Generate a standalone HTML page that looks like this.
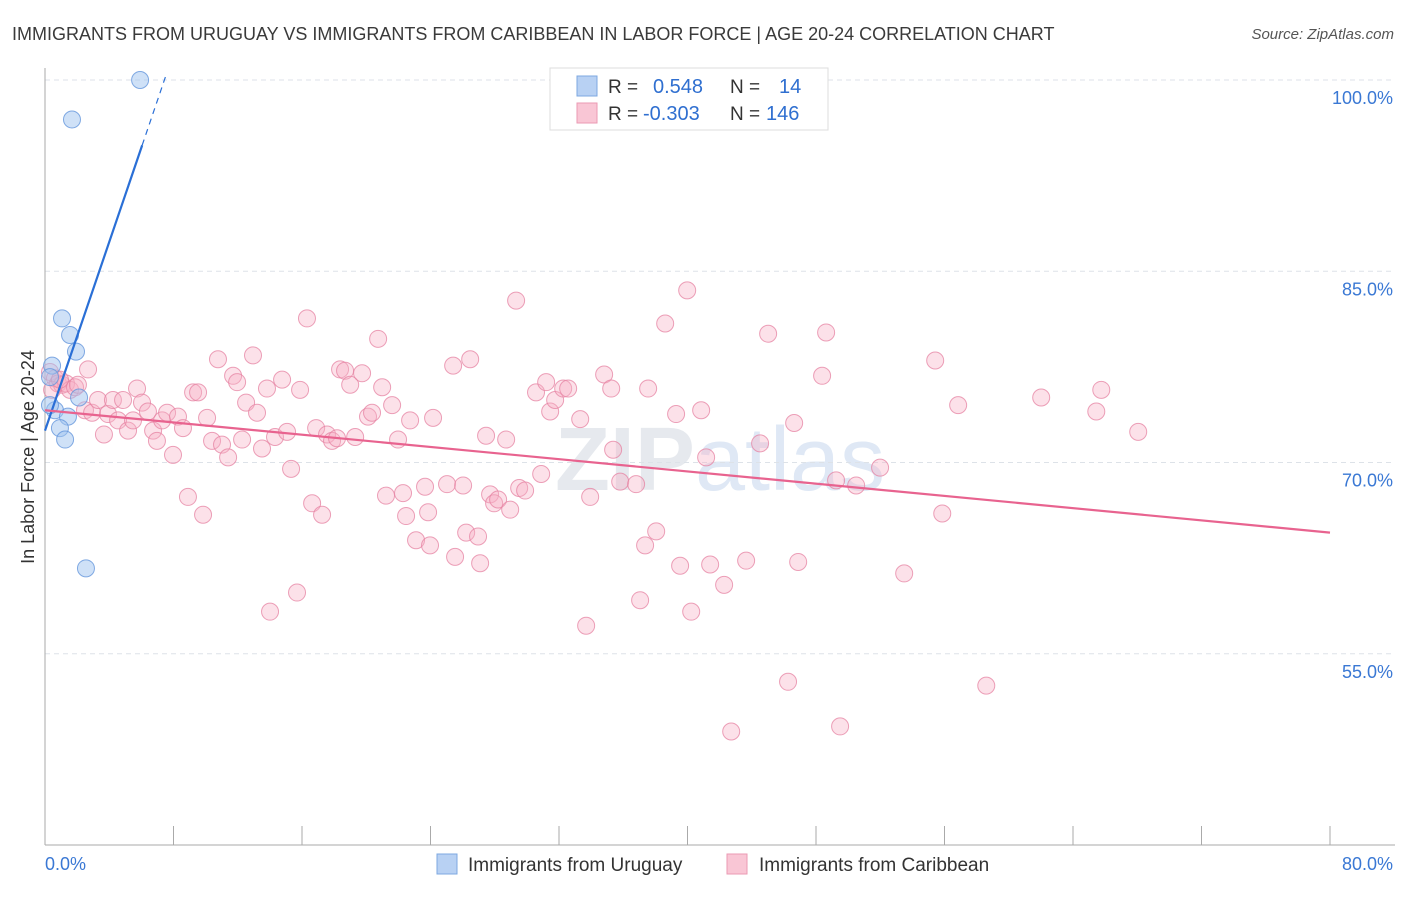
<!DOCTYPE html>
<html><head><meta charset="utf-8">
<style>
body{margin:0;background:#fff;font-family:"Liberation Sans",sans-serif;}
svg text{font-family:"Liberation Sans",sans-serif;}
</style></head>
<body>
<svg id="chart" width="1406" height="892" xmlns="http://www.w3.org/2000/svg">
<text x="12" y="40" font-size="18" fill="#3a3a3a">IMMIGRANTS FROM URUGUAY VS IMMIGRANTS FROM CARIBBEAN IN LABOR FORCE | AGE 20-24 CORRELATION CHART</text>
<text x="1394" y="39" font-size="15" fill="#555" text-anchor="end" font-style="italic">Source: ZipAtlas.com</text>
<text x="720" y="490" font-size="90" text-anchor="middle" fill="#e6e9ee" font-family="Liberation Serif" font-weight="bold">ZIP<tspan fill="#dfe8f5" font-family="Liberation Sans" font-weight="normal">atlas</tspan></text>
<g id="grid"></g>
<g id="axes"></g>
<g id="pink"></g>
<g id="blue"></g>
<g id="trends"></g>
<text transform="translate(34,457) rotate(-90)" font-size="18" fill="#333" text-anchor="middle">In Labor Force | Age 20-24</text>
<g>
<rect x="550" y="68" width="278" height="62" fill="#fff" stroke="#ddd"/>
<rect x="577" y="76" width="20" height="20" fill="#b8d1f3" stroke="#7ea8e0"/>
<rect x="577" y="103" width="20" height="20" fill="#f9c6d5" stroke="#eb9ab3"/>
<text x="608" y="93" font-size="19" fill="#333">R = </text><text x="653" y="93" font-size="20" fill="#2f6fd0">0.548</text>
<text x="730" y="93" font-size="19" fill="#333">N = </text><text x="779" y="93" font-size="20" fill="#2f6fd0">14</text>
<text x="608" y="120" font-size="19" fill="#333">R = </text><text x="643" y="120" font-size="20" fill="#2f6fd0">-0.303</text>
<text x="730" y="120" font-size="19" fill="#333">N = </text><text x="766" y="120" font-size="20" fill="#2f6fd0">146</text>
</g>
<g>
<rect x="437" y="854" width="20" height="20" fill="#b8d1f3" stroke="#7ea8e0"/>
<text x="468" y="871" font-size="19" fill="#333">Immigrants from Uruguay</text>
<rect x="727" y="854" width="20" height="20" fill="#f9c6d5" stroke="#eb9ab3"/>
<text x="759" y="871" font-size="19" fill="#333">Immigrants from Caribbean</text>
</g>
</svg>
<script>
const yTicks=[100,85,70,55];
const yTickLabels=["100.0%","85.0%","70.0%","55.0%"];
const xTickCount=10;
const xEndLabels=["0.0%","80.0%"];
const uruguayX=[5.92,1.68,1.06,1.56,1.93,0.44,0.31,2.12,0.62,0.31,1.43,0.93,1.25,2.55];
const uruguayY=[100,96.9,81.3,80.0,78.7,77.6,76.7,75.1,74.1,74.5,73.6,72.7,71.8,61.7];
const caribX=[0.31,0.62,0.81,1.06,1.31,1.56,1.87,2.68,2.05,0.44,0.93,2.49,2.93,3.30,3.67,3.92,4.23,4.55,4.86,5.17,5.48,5.73,6.04,6.41,6.73,6.97,7.29,7.60,7.97,8.28,8.59,8.90,9.22,9.53,9.84,10.09,10.40,10.77,11.02,11.40,11.71,11.96,12.27,12.52,12.95,13.20,13.51,13.82,14.32,14.76,15.07,15.32,15.69,15.88,14.01,16.31,16.63,16.88,17.25,17.56,17.87,18.18,18.37,18.68,19.00,19.31,19.74,20.11,20.36,20.74,20.99,21.23,21.61,21.98,22.29,22.48,22.73,23.10,23.85,23.97,24.16,23.66,25.03,25.41,25.53,26.03,26.22,26.47,26.96,27.09,27.46,27.71,27.96,28.21,28.71,28.96,29.33,29.52,29.89,30.57,30.89,31.20,31.45,31.76,32.26,32.57,33.32,33.69,33.94,34.81,35.25,35.37,35.81,36.80,37.05,37.36,37.55,38.05,38.61,39.29,39.54,39.98,40.23,40.85,41.16,41.41,42.28,42.72,43.65,44.52,45.02,46.26,46.64,46.89,48.38,48.63,49.25,49.50,50.50,51.99,53.49,55.42,55.86,56.85,58.60,62.02,65.45,65.76,68.06];
const caribY=[77.1,76.6,76.2,76.1,76.2,75.7,75.9,77.3,76.1,75.7,76.5,74.1,73.9,74.9,72.2,73.8,74.9,73.3,74.9,72.5,73.3,75.8,74.7,74.0,72.5,71.7,73.3,73.9,70.6,73.6,72.7,67.3,75.5,75.5,65.9,73.5,71.7,78.1,71.4,70.4,76.8,76.3,71.8,74.7,78.4,73.9,71.1,75.8,72.0,76.5,72.4,69.5,59.8,75.7,58.3,81.3,66.8,72.7,65.9,72.2,71.7,71.9,77.3,77.2,76.1,72.0,77.0,73.6,73.9,79.7,75.9,67.4,74.5,71.8,67.6,65.8,73.3,63.9,66.1,63.5,73.5,68.1,68.3,77.6,62.6,68.2,64.5,78.1,64.2,62.1,72.1,67.5,66.8,67.1,71.8,66.3,82.7,68.0,67.8,75.5,69.1,76.3,74.0,74.9,75.8,75.8,73.4,57.2,67.3,76.9,75.8,71.0,68.5,68.3,59.2,63.5,75.8,64.6,80.9,73.8,61.9,83.5,58.3,74.1,70.4,62.0,60.4,48.9,62.3,71.5,80.1,52.8,73.1,62.2,76.8,80.2,68.6,49.3,68.2,69.6,61.3,78.0,66.0,74.5,52.5,75.1,74.0,75.7,72.4];
const uruguayTrend=[72.5,3.7];   // intercept, slope
const caribTrend=[74.1,-0.12];

const NS="http://www.w3.org/2000/svg";
const X0=45,X1=1330,YTOP=80;
function sx(v){return X0+v*(X1-X0)/80;}
function sy(v){return YTOP+(100-v)*12.75;}
function mk(tag,attrs,parent){const e=document.createElementNS(NS,tag);for(const k in attrs)e.setAttribute(k,attrs[k]);parent.appendChild(e);return e;}

const grid=document.getElementById('grid');
yTicks.forEach((t,i)=>{
  const l=mk('line',{x1:X0,x2:1395,y1:sy(t),y2:sy(t),stroke:'#dde2e8','stroke-dasharray':'5,4'},grid);
  
  
  const tx=mk('text',{x:1393,y:sy(t)+24,'font-size':18,fill:'#3a78d4','text-anchor':'end'},grid);
  tx.textContent=yTickLabels[i];
  
  
});
const axes=document.getElementById('axes');
mk('line',{x1:X0,x2:X0,y1:68,y2:845,stroke:'#aaa'},axes);
mk('line',{x1:X0,x2:1395,y1:845,y2:845,stroke:'#aaa'},axes);
for(let i=1;i<=xTickCount;i++){
  const tk=mk('line',{x1:sx(i*8),x2:sx(i*8),y1:826,y2:845,stroke:'#aaa'},axes);
  
  
}
const xl0=mk('text',{x:45,y:870,'font-size':18,fill:'#3a78d4'},axes);xl0.textContent=xEndLabels[0];


const xl1=mk('text',{x:1393,y:870,'font-size':18,fill:'#3a78d4','text-anchor':'end'},axes);xl1.textContent=xEndLabels[1];



const pink=document.getElementById('pink');
caribX.forEach((x,i)=>{
  const c=mk('circle',{cx:sx(x),cy:sy(caribY[i]),r:8.5,fill:'rgba(248,176,198,0.38)',stroke:'rgba(230,130,162,0.75)','stroke-width':1},pink);
  
  
});
const blue=document.getElementById('blue');
uruguayX.forEach((x,i)=>{
  const c=mk('circle',{cx:sx(x),cy:sy(uruguayY[i]),r:8.5,fill:'rgba(160,196,240,0.5)',stroke:'rgba(100,150,220,0.8)','stroke-width':1},blue);
  
  
});
const tr=document.getElementById('trends');
const bt1=mk('line',{x1:sx(0),y1:sy(uruguayTrend[0]),x2:sx(6.05),y2:sy(uruguayTrend[0]+uruguayTrend[1]*6.05),stroke:'#2a6fd6','stroke-width':2.2},tr);


const bt2=mk('line',{x1:sx(6.05),y1:sy(uruguayTrend[0]+uruguayTrend[1]*6.05),x2:sx(7.5),y2:sy(uruguayTrend[0]+uruguayTrend[1]*7.5),stroke:'#2a6fd6','stroke-width':1.2,'stroke-dasharray':'6,5'},tr);


const pt=mk('line',{x1:sx(0),y1:sy(caribTrend[0]),x2:sx(80),y2:sy(caribTrend[0]+caribTrend[1]*80),stroke:'#e8638f','stroke-width':2.2},tr);


</script>
</body></html>
